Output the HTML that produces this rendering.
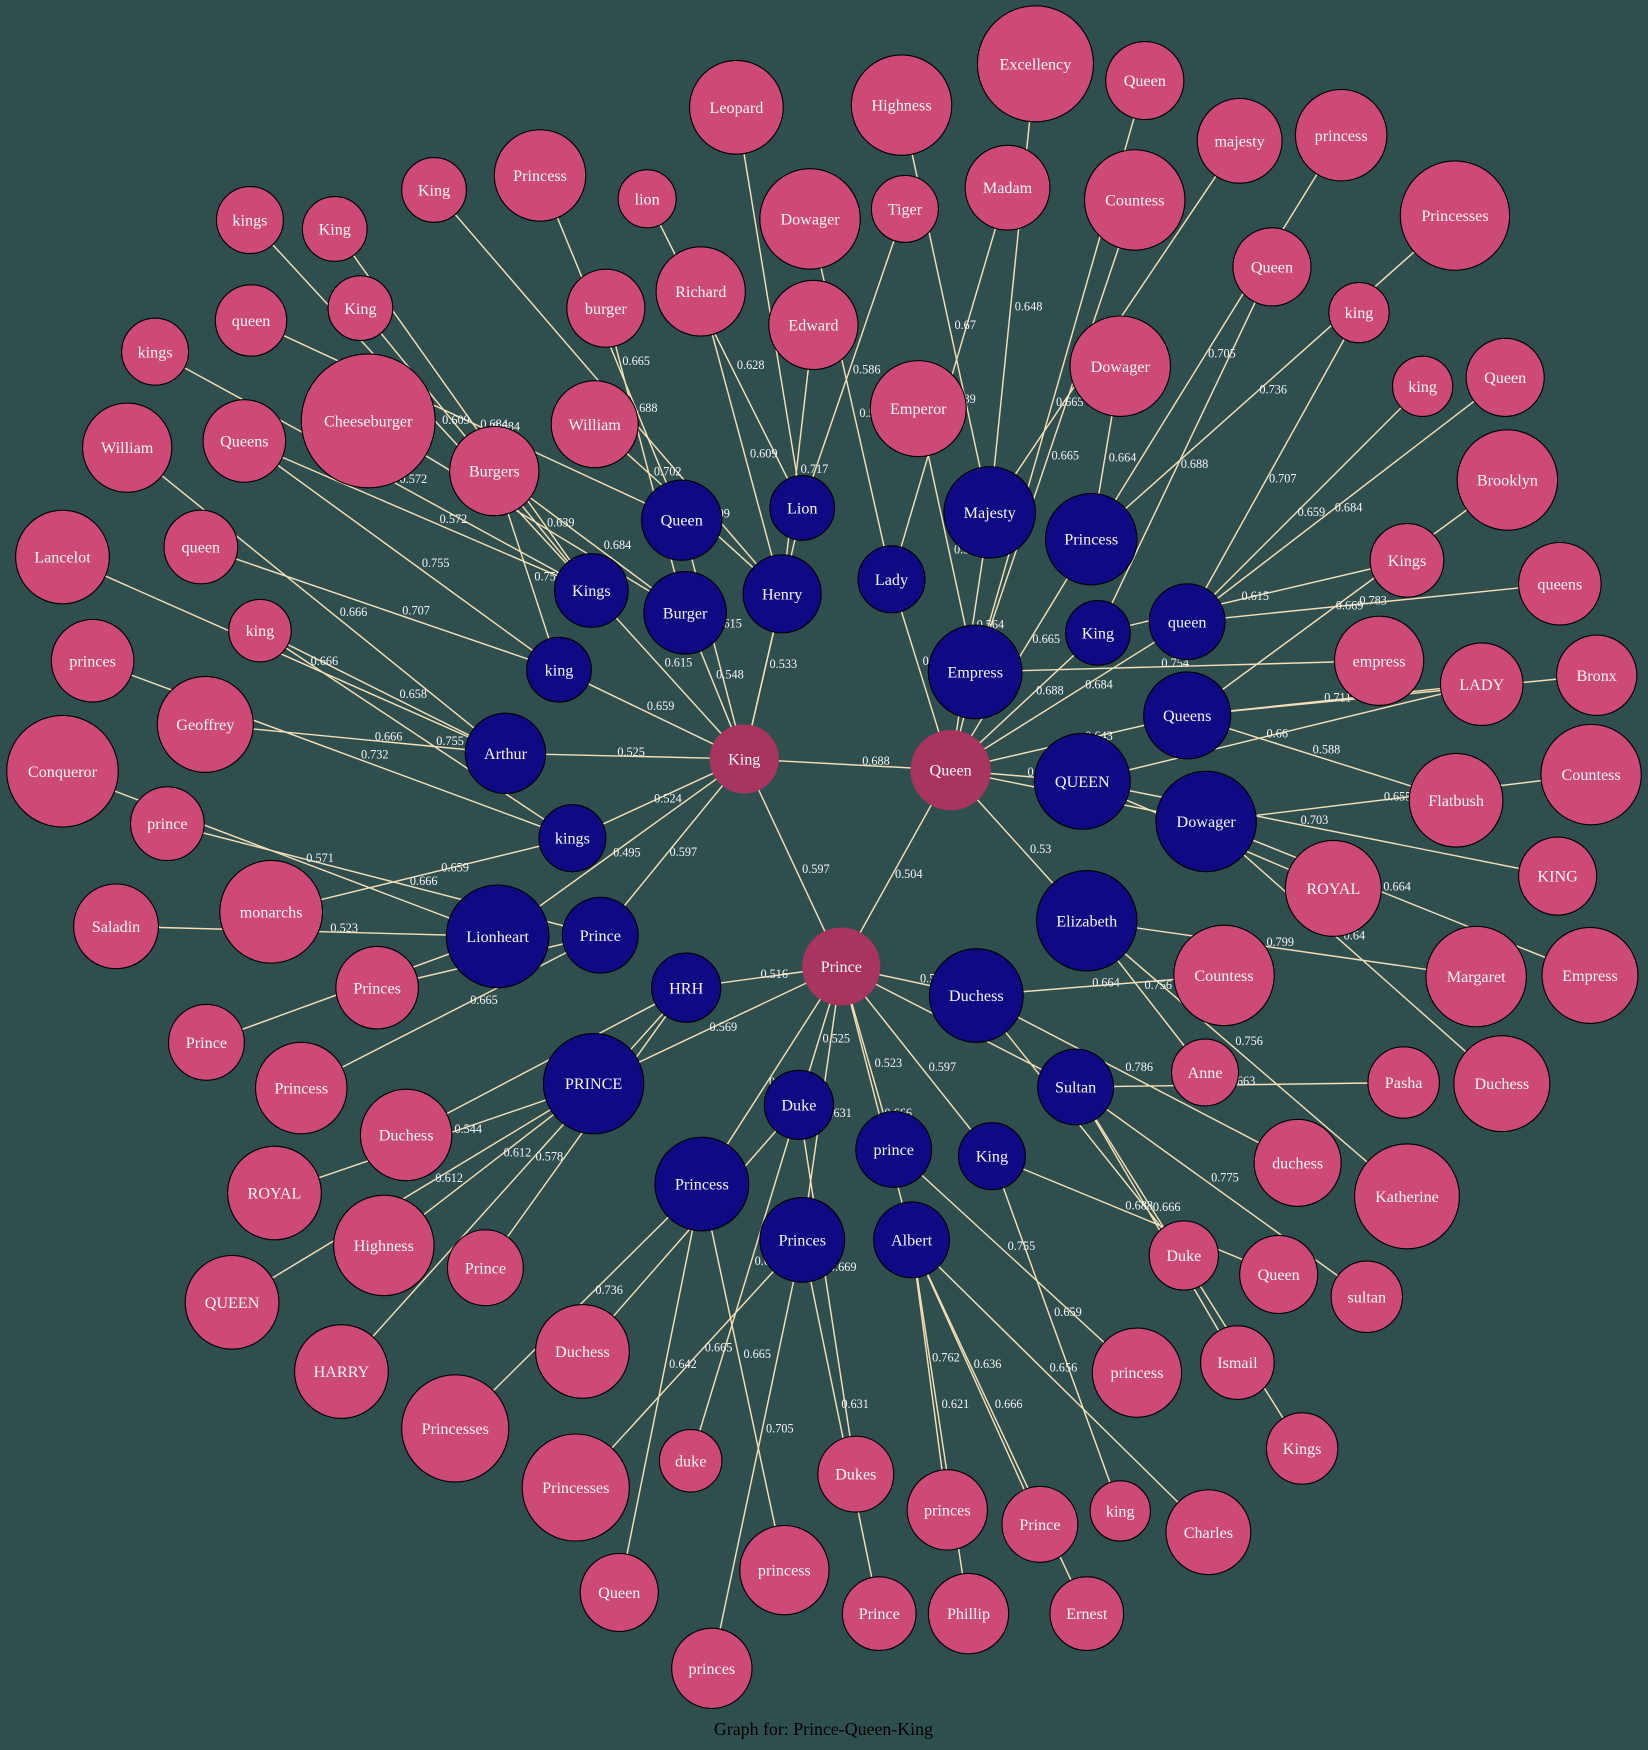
<!DOCTYPE html>
<html><head><meta charset="utf-8"><style>
html,body{margin:0;padding:0;background:#2f4f4f;}
svg{display:block;}
</style></head><body>
<svg id="g" width="1648" height="1750" viewBox="0 0 1477 1568" xmlns="http://www.w3.org/2000/svg">
<rect x="0" y="0" width="1477" height="1568" fill="#2f4f4f"/>
<g id="edges"></g><g id="elabels"></g><g id="nodes"></g>
<text x="738" y="1555" text-anchor="middle" font-family="Liberation Serif, serif" font-size="16" fill="#000">Graph for: Prince-Queen-King</text>
</svg>
<script>
// nodes: id, label, x, y, r, type (h=hub, b=blue, p=pink)
const nodes = [
["K","King",667,680,31,"h"],["Q","Queen",852,690,36,"h"],["P","Prince",754,866,35,"h"],
["bQueen","Queen",611,466,36,"b"],["bLion","Lion",719,455,29,"b"],["bHenry","Henry",701,532,35,"b"],["bBurger","Burger",614,549,37,"b"],["bKings","Kings",530,529,33,"b"],["bking","king",501,600,29,"b"],["bArthur","Arthur",453,675,36,"b"],["bkings","kings",513,751,30,"b"],["bLionheart","Lionheart",446,839,46,"b"],["bPrince","Prince",538,838,34,"b"],
["bLady","Lady",799,519,30,"b"],["bMajesty","Majesty",887,459,41,"b"],["bPrincess","Princess",978,483,41,"b"],["bEmpress","Empress",874,602,42,"b"],["bKing","King",984,567,29,"b"],["bqueen","queen",1064,557,34,"b"],["bQueens","Queens",1064,641,39,"b"],["bQUEEN","QUEEN",970,700,43,"b"],["bDowager","Dowager",1081,736,45,"b"],["bElizabeth","Elizabeth",974,825,45,"b"],
["bHRH","HRH",615,885,31,"b"],["bPRINCE","PRINCE",532,971,45,"b"],["bDuchess","Duchess",875,892,42,"b"],["bSultan","Sultan",964,974,34,"b"],["bDuke","Duke",716,990,31,"b"],["bprince","prince",801,1030,34,"b"],["bKing2","King",889,1036,30,"b"],["bPrincess2","Princess",629,1061,42,"b"],["bPrinces","Princes",719,1111,38,"b"],["bAlbert","Albert",817,1111,34,"b"],
["p1","Leopard",660,96,42,"p"],["p2","Highness",808,94,45,"p"],["p3","Excellency",928,57,52,"p"],["p4","Queen",1026,72,35,"p"],["p5","Countess",1017,179,45,"p"],["p6","majesty",1111,126,38,"p"],["p7","princess",1202,121,41,"p"],["p8","Princesses",1304,193,49,"p"],["p9","Madam",903,168,38,"p"],["p10","Tiger",811,187,30,"p"],["p11","Dowager",726,196,45,"p"],["p12","lion",580,178,26,"p"],["p13","Richard",628,261,40,"p"],["p14","Edward",729,291,40,"p"],["p15","Emperor",823,366,43,"p"],["p16","Dowager",1004,328,45,"p"],["p17","Queen",1140,239,35,"p"],["p18","king",1218,280,27,"p"],["p19","king",1275,346,27,"p"],["p20","Queen",1349,338,35,"p"],["p21","Brooklyn",1351,430,45,"p"],["p22","Kings",1261,502,33,"p"],["p23","queens",1398,523,37,"p"],["p24","empress",1236,592,40,"p"],["p25","LADY",1328,613,37,"p"],["p26","Bronx",1431,605,36,"p"],["p27","Flatbush",1305,717,42,"p"],["p28","Countess",1426,694,45,"p"],["p29","KING",1396,785,35,"p"],["p30","ROYAL",1195,796,43,"p"],["p31","Empress",1425,874,43,"p"],["p32","Margaret",1323,875,45,"p"],["p33","Duchess",1346,971,43,"p"],["p34","Countess",1097,874,45,"p"],["p35","Anne",1080,961,30,"p"],["p36","Pasha",1258,970,32,"p"],["p37","Katherine",1261,1072,47,"p"],["p38","duchess",1163,1042,39,"p"],["p39","sultan",1225,1162,32,"p"],["p40","Queen",1146,1142,35,"p"],["p41","Duke",1061,1125,31,"p"],["p42","Ismail",1109,1221,33,"p"],["p43","Kings",1167,1298,32,"p"],["p44","princess",1019,1230,40,"p"],["p45","Charles",1083,1373,38,"p"],["p46","king",1004,1354,27,"p"],["p47","Prince",932,1366,34,"p"],["p48","Ernest",974,1446,33,"p"],["p49","princes",849,1353,36,"p"],["p50","Phillip",868,1446,36,"p"],["p51","Prince",788,1446,33,"p"],["p52","Dukes",767,1321,34,"p"],["p53","princess",703,1407,40,"p"],["p54","princes",638,1495,36,"p"],["p55","Queen",555,1427,35,"p"],["p56","duke",619,1309,28,"p"],["p57","Princesses",516,1333,48,"p"],["p58","Princesses",408,1280,48,"p"],["p59","Duchess",522,1211,42,"p"],["p60","HARRY",306,1229,42,"p"],["p61","QUEEN",208,1167,42,"p"],["p62","Prince",435,1136,34,"p"],["p63","Highness",344,1116,45,"p"],["p64","ROYAL",246,1069,42,"p"],["p65","Duchess",364,1017,41,"p"],["p66","Princess",270,975,41,"p"],["p67","Prince",185,934,34,"p"],["p68","Princes",338,885,37,"p"],["p69","Saladin",104,830,38,"p"],["p70","monarchs",243,817,46,"p"],["p71","prince",150,738,33,"p"],["p72","Conqueror",56,691,50,"p"],["p73","Geoffrey",184,649,43,"p"],["p74","princes",83,592,37,"p"],["p75","king",233,565,28,"p"],["p76","Lancelot",56,499,42,"p"],["p77","William",114,401,40,"p"],["p78","queen",180,490,33,"p"],["p79","Queens",219,395,37,"p"],["p80","kings",139,315,30,"p"],["p81","queen",225,287,32,"p"],["p82","Cheeseburger",330,377,60,"p"],["p83","King",323,276,29,"p"],["p84","King",300,205,29,"p"],["p85","kings",224,197,30,"p"],["p86","Burgers",443,422,40,"p"],["p87","King",389,170,29,"p"],["p88","Princess",484,157,41,"p"],["p89","burger",543,276,35,"p"],["p90","William",533,380,39,"p"]
];
// edges: source, target, similarity
const edges = [
["K","Q","0.688"],["K","P","0.597"],["Q","P","0.504"],
["K","bQueen","0.615"],["K","bLion","0.531"],["K","bHenry","0.533"],["K","bBurger","0.548"],["K","bKings","0.615"],["K","bking","0.659"],["K","bArthur","0.525"],["K","bkings","0.524"],["K","bLionheart","0.495"],["K","bPrince","0.597"],
["Q","bLady","0.54"],["Q","bMajesty","0.564"],["Q","bPrincess","0.665"],["Q","bEmpress","0.609"],["Q","bKing","0.688"],["Q","bqueen","0.684"],["Q","bQueens","0.643"],["Q","bQUEEN","0.557"],["Q","bDowager","0.586"],["Q","bElizabeth","0.53"],
["P","bHRH","0.516"],["P","bPRINCE","0.569"],["P","bDuchess","0.532"],["P","bSultan","0.518"],["P","bDuke","0.525"],["P","bprince","0.523"],["P","bKing2","0.597"],["P","bPrincess2","0.665"],["P","bPrinces","0.631"],["P","bAlbert","0.666"],
["p1","bLion","0.73"],["p2","bMajesty","0.67"],["p3","bMajesty","0.648"],["p4","bEmpress","0.665"],["p5","bEmpress","0.665"],["p6","bMajesty","0.584"],["p7","bPrincess","0.705"],["p8","bPrincess","0.736"],["p9","bLady","0.589"],["p10","bLion","0.586"],["p11","bLady","0.557"],["p12","bLion","0.628"],["p13","bHenry","0.609"],["p14","bHenry","0.717"],["p15","bEmpress","0.573"],["p16","bPrincess","0.664"],["p17","bKing","0.688"],["p18","bqueen","0.707"],["p19","bqueen","0.659"],["p20","bqueen","0.684"],["p21","bQueens","0.669"],["p22","bKing","0.615"],["p23","bqueen","0.783"],["p24","bEmpress","0.754"],["p25","bQUEEN","0.66"],["p25","bQueens","0.711"],["p26","bQueens","0.66"],["p27","bQueens","0.588"],["p28","bDowager","0.655"],["p29","bQUEEN","0.703"],["p30","bQUEEN","0.622"],["p31","bDowager","0.664"],["p32","bElizabeth","0.799"],["p33","bDowager","0.64"],["p34","bDuchess","0.664"],["p35","bElizabeth","0.756"],["p36","bSultan","0.663"],["p37","bElizabeth","0.756"],["p38","bDuchess","0.786"],["p39","bSultan","0.775"],["p40","bKing2","0.688"],["p41","bDuchess","0.667"],["p42","bSultan","0.666"],["p43","bSultan","0.615"],["p44","bprince","0.755"],["p45","bAlbert","0.656"],["p46","bKing2","0.659"],["p47","bAlbert","0.636"],["p48","bAlbert","0.666"],["p49","bAlbert","0.762"],["p50","bAlbert","0.621"],["p51","bPrinces","0.631"],["p52","bDuke","0.669"],["p53","bPrincess2","0.665"],["p54","bPrinces","0.705"],["p55","bPrincess2","0.642"],["p56","bDuke","0.641"],["p57","bPrinces","0.665"],["p58","bPrincess2","0.736"],["p59","bDuke","0.667"],["p60","bHRH","0.578"],["p61","bPRINCE","0.612"],["p62","bHRH","0.578"],["p63","bPRINCE","0.612"],["p64","bPRINCE","0.544"],["p65","bHRH","0.569"],["p66","bPrince","0.665"],["p67","bLionheart","0.498"],["p68","bPrince","0.631"],["p69","bLionheart","0.523"],["p70","bkings","0.659"],["p71","bPrince","0.666"],["p72","bLionheart","0.571"],["p73","bArthur","0.666"],["p74","bkings","0.732"],["p75","bArthur","0.658"],["p75","bkings","0.755"],["p76","bArthur","0.666"],["p77","bArthur","0.666"],["p78","bking","0.707"],["p79","bking","0.755"],["p79","bKings","0.572"],["p80","bKings","0.572"],["p81","bQueen","0.684"],["p82","bBurger","0.639"],["p83","bKings","0.659"],["p84","bKings","0.684"],["p85","bKings","0.609"],["p86","bBurger","0.684"],["p86","bking","0.755"],["p87","bHenry","0.688"],["p88","bQueen","0.665"],["p89","bBurger","0.702"],["p90","bHenry","0.609"]
];
const fills = {h:"#a8345f", b:"#0f0a84", p:"#cd4977"};
const NS = "http://www.w3.org/2000/svg";
const byId = {};
nodes.forEach(n => byId[n[0]] = n);
const gE = document.getElementById("edges"), gL = document.getElementById("elabels"), gN = document.getElementById("nodes");
edges.forEach(e => {
  const a = byId[e[0]], b = byId[e[1]];
  const l = document.createElementNS(NS, "line");
  l.setAttribute("x1", a[2]); l.setAttribute("y1", a[3]);
  l.setAttribute("x2", b[2]); l.setAttribute("y2", b[3]);
  l.setAttribute("stroke", "#f5deb3"); l.setAttribute("stroke-width", "1.3");
  
  
  gE.appendChild(l);
  const t = document.createElementNS(NS, "text");
  const f = 0.55;
  t.setAttribute("x", b[2] + (a[2] - b[2]) * (1 - f) + 4);
  t.setAttribute("y", b[3] + (a[3] - b[3]) * (1 - f));
  t.setAttribute("font-family", "Liberation Serif, serif");
  t.setAttribute("font-size", "11");
  t.setAttribute("fill", "#f5f5f5");
  t.textContent = e[2];
  
  
  gL.appendChild(t);
});
nodes.forEach(n => {
  const g = document.createElementNS(NS, "g");
  
  
  const c = document.createElementNS(NS, "circle");
  c.setAttribute("cx", n[2]); c.setAttribute("cy", n[3]); c.setAttribute("r", n[4]);
  c.setAttribute("fill", fills[n[5]]);
  if (n[5] !== "h") { c.setAttribute("stroke", "#000"); c.setAttribute("stroke-width", "1"); }
  
  
  g.appendChild(c);
  const t = document.createElementNS(NS, "text");
  t.setAttribute("x", n[2]); t.setAttribute("y", n[3] + 5);
  t.setAttribute("text-anchor", "middle");
  t.setAttribute("font-family", "Liberation Serif, serif");
  t.setAttribute("font-size", "14.5");
  t.setAttribute("fill", "#f5f5f5");
  t.textContent = n[1];
  
  
  g.appendChild(t);
  gN.appendChild(g);
});
</script>
</body></html>
